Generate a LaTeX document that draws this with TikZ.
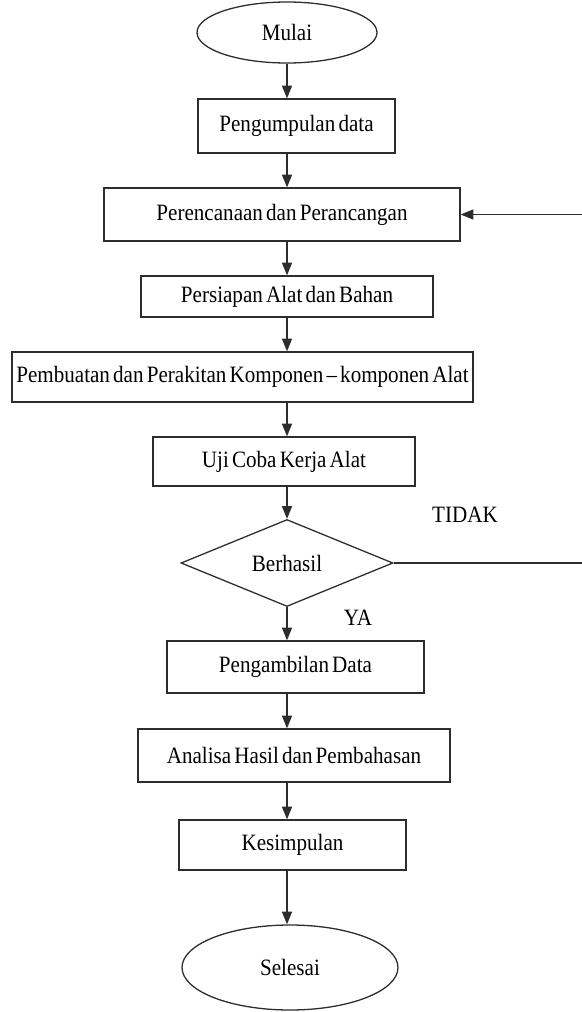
\documentclass[tikz,border=0pt]{standalone}
\usepackage{fontspec}
\setmainfont{Liberation Serif}[FakeStretch=0.9,WordSpace=0.6]
\usepackage{tikz}
\usetikzlibrary{arrows.meta, shapes.geometric, positioning, calc}
\definecolor{LineGray}{RGB}{45,45,45}

\begin{document}
\begin{tikzpicture}[
        font=\fontsize{20}{24}\selectfont,
        box/.style={rectangle,draw=LineGray,line width=1.1pt,inner sep=2pt},
        term/.style={ellipse,draw=LineGray,line width=1.1pt,inner sep=1pt},
        cek/.style={diamond,draw=LineGray,line width=1.1pt,aspect=2.4,inner sep=1pt},
        arr/.style={-{Triangle[length=3.8mm,width=3mm]},LineGray,line width=1.1pt},
        ln/.style={LineGray,line width=1.1pt}
      ]
        \useasboundingbox (0,0) rectangle (17.43,-30.36);
        \node[term,minimum width=5.4cm,minimum height=1.83cm] (mulai) at (8.61,-0.975) {Mulai};
        \node[box,minimum width=5.91cm,minimum height=1.62cm] (kumpul) at (8.895,-3.78) {Pengumpulan data};
        \node[box,minimum width=10.68cm,minimum height=1.59cm] (rencana) at (8.46,-6.435) {Perencanaan dan Perancangan};
        \node[box,minimum width=8.76cm,minimum height=1.23cm] (siap) at (8.61,-8.895) {Persiapan Alat dan Bahan};
        \node[box,minimum width=13.83cm,minimum height=1.5cm] (buat) at (7.275,-11.31) {Pembuatan dan Perakitan Komponen -- komponen Alat};
        \node[box,minimum width=7.86cm,minimum height=1.47cm] (uji) at (8.52,-13.845) {Uji Coba Kerja Alat};
        \node[cek,minimum width=6.36cm,minimum height=2.61cm] (hasil) at (8.61,-16.89) {Berhasil};
        \node[box,minimum width=7.71cm,minimum height=1.56cm] (ambil) at (8.865,-20.01) {Pengambilan Data};
        \node[box,minimum width=9.36cm,minimum height=1.59cm] (analisa) at (8.82,-22.665) {Analisa Hasil dan Pembahasan};
        \node[box,minimum width=6.81cm,minimum height=1.5cm] (simpul) at (8.775,-25.35) {Kesimpulan};
        \node[term,minimum width=6.48cm,minimum height=2.55cm] (selesai) at (8.7,-29.025) {Selesai};
        \node (tidak) at (13.95,-15.45) {TIDAK};
        \node (ya) at (10.74,-18.54) {YA};
        % main flow
        \draw[arr] (mulai.south) -- (mulai.south |- kumpul.north);
        \draw[arr] (kumpul.south -| mulai) -- (rencana.north -| mulai);
        \draw[arr] (rencana.south -| mulai) -- (siap.north -| mulai);
        \draw[arr] (siap.south -| mulai) -- (buat.north -| mulai);
        \draw[arr] (buat.south -| mulai) -- (uji.north -| mulai);
        \draw[arr] (uji.south -| mulai) -- (hasil.north);
        \draw[arr] (hasil.south) -- (ambil.north -| mulai);
        \draw[arr] (ambil.south -| mulai) -- (analisa.north -| mulai);
        \draw[arr] (analisa.south -| mulai) -- (simpul.north -| mulai);
        \draw[arr] (simpul.south -| mulai) -- (selesai.north -| mulai);
        % loop back when not successful
        \coordinate (pojok) at (17.5,-16.89);
        \coordinate (balik) at (17.5,-6.435);
        \draw[ln] (hasil.east) -- (pojok) -- (balik);
        \draw[arr] (balik) -- (rencana.east);
      \end{tikzpicture}
\end{document}
